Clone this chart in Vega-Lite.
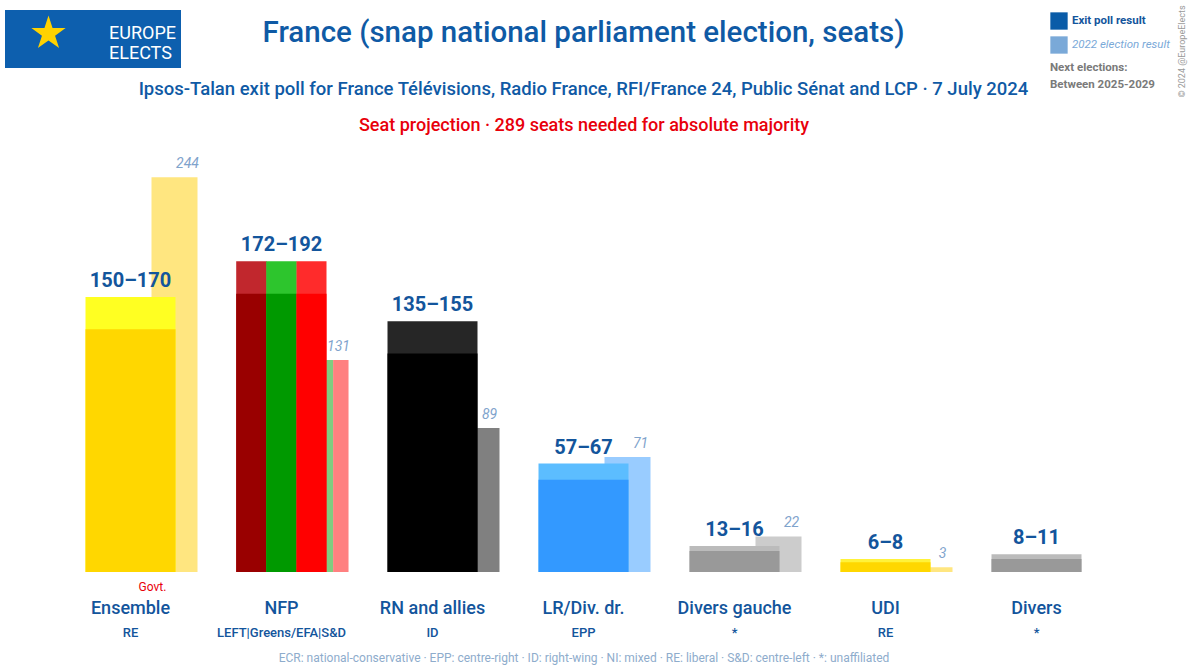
{
  "$schema": "https://vega.github.io/schema/vega-lite/v6.json",
  "width": 1057,
  "height": 432,
  "autosize": {"type": "none"},
  "padding": {"left": 55, "top": 140, "right": 77, "bottom": 94},
  "background": "white",
  "config": {
    "view": {"stroke": null},
    "scale": {"bandPaddingInner": 0, "bandPaddingOuter": 0},
    "font": "Roboto"
  },
  "title": {
    "text": "France (snap national parliament election, seats)",
    "subtitle": "Ipsos-Talan exit poll for France Télévisions, Radio France, RFI/France 24, Public Sénat and LCP · 7 July 2024",
    "anchor": "middle",
    "font": "Roboto",
    "fontSize": 29.5,
    "fontWeight": 500,
    "color": "#0f5aa5",
    "subtitleFont": "Roboto",
    "subtitleFontSize": 18.5,
    "subtitleFontWeight": 500,
    "subtitleColor": "#0f5aa5",
    "subtitlePadding": 32,
    "offset": -95
  },
  "datasets": {
    "bars": [
      {"party": "Ensemble", "seg": "all", "key": "Ensemble high", "v": 170},
      {"party": "Ensemble", "seg": "all", "key": "Ensemble low", "v": 150},
      {"party": "NFP", "seg": "a", "key": "NFP-LEFT high", "v": 192},
      {"party": "NFP", "seg": "a", "key": "NFP-LEFT low", "v": 172},
      {"party": "NFP", "seg": "b", "key": "NFP-Greens high", "v": 192},
      {"party": "NFP", "seg": "b", "key": "NFP-Greens low", "v": 172},
      {"party": "NFP", "seg": "c", "key": "NFP-S&D high", "v": 192},
      {"party": "NFP", "seg": "c", "key": "NFP-S&D low", "v": 172},
      {"party": "RN and allies", "seg": "all", "key": "RN high", "v": 155},
      {"party": "RN and allies", "seg": "all", "key": "RN low", "v": 135},
      {"party": "LR/Div. dr.", "seg": "all", "key": "LR high", "v": 67},
      {"party": "LR/Div. dr.", "seg": "all", "key": "LR low", "v": 57},
      {"party": "Divers gauche", "seg": "all", "key": "DVG high", "v": 16},
      {"party": "Divers gauche", "seg": "all", "key": "DVG low", "v": 13},
      {"party": "UDI", "seg": "all", "key": "UDI high", "v": 8},
      {"party": "UDI", "seg": "all", "key": "UDI low", "v": 6},
      {"party": "Divers", "seg": "all", "key": "DIV high", "v": 11},
      {"party": "Divers", "seg": "all", "key": "DIV low", "v": 8}
    ],
    "prev": [
      {"party": "Ensemble", "seg": "all", "key": "Ensemble prev", "v": 244},
      {"party": "NFP", "seg": "a", "key": "NFP-LEFT prev", "v": 131},
      {"party": "NFP", "seg": "b", "key": "NFP-Greens prev", "v": 131},
      {"party": "NFP", "seg": "c", "key": "NFP-S&D prev", "v": 131},
      {"party": "RN and allies", "seg": "all", "key": "RN prev", "v": 89},
      {"party": "LR/Div. dr.", "seg": "all", "key": "LR prev", "v": 71},
      {"party": "Divers gauche", "seg": "all", "key": "DVG prev", "v": 22},
      {"party": "UDI", "seg": "all", "key": "UDI prev", "v": 3}
    ],
    "labels": [
      {"party": "Ensemble", "range": "150–170", "high": 170, "prev": 244, "group": "RE", "gov": "Govt."},
      {"party": "NFP", "range": "172–192", "high": 192, "prev": 131, "group": "LEFT|Greens/EFA|S&D", "gov": ""},
      {"party": "RN and allies", "range": "135–155", "high": 155, "prev": 89, "group": "ID", "gov": ""},
      {"party": "LR/Div. dr.", "range": "57–67", "high": 67, "prev": 71, "group": "EPP", "gov": ""},
      {"party": "Divers gauche", "range": "13–16", "high": 16, "prev": 22, "group": "*", "gov": ""},
      {"party": "UDI", "range": "6–8", "high": 8, "prev": 3, "group": "RE", "gov": ""},
      {"party": "Divers", "range": "8–11", "high": 11, "group": "*", "gov": ""}
    ]
  },
  "layer": [
    {
      "encoding": {
        "x": {"field": "party", "type": "nominal", "scale": {"domain": ["Ensemble", "NFP", "RN and allies", "LR/Div. dr.", "Divers gauche", "UDI", "Divers"]}, "axis": null},
        "fill": {
          "field": "key", "type": "nominal", "legend": null,
          "scale": {
            "domain": ["Ensemble high", "Ensemble low", "Ensemble prev", "NFP-LEFT high", "NFP-LEFT low", "NFP-LEFT prev", "NFP-Greens high", "NFP-Greens low", "NFP-Greens prev", "NFP-S&D high", "NFP-S&D low", "NFP-S&D prev", "RN high", "RN low", "RN prev", "LR high", "LR low", "LR prev", "DVG high", "DVG low", "DVG prev", "UDI high", "UDI low", "UDI prev", "DIV high", "DIV low"],
            "range": ["#FFFF22", "#FFD700", "#FFE680", "#C1272D", "#990000", "#CC7F7F", "#2DC52D", "#009900", "#80CC80", "#FF2B2B", "#FF0000", "#FF8080", "#262626", "#000000", "#808080", "#5CBDFF", "#3399FF", "#99CCFF", "#BBBBBB", "#999999", "#CCCCCC", "#FFF23A", "#FFD700", "#FFE680", "#BBBBBB", "#999999"]
          }
        }
      },
      "layer": [
        {"data": {"name": "prev"}, "transform": [{"filter": "datum.seg == 'all'"}], "mark": {"type": "bar", "width": 46, "xOffset": 44},
         "encoding": {"y": {"field": "v", "type": "quantitative", "stack": null, "scale": {"domain": [0, 267]}, "axis": null}}},
        {"data": {"name": "prev"}, "transform": [{"filter": "datum.seg == 'a'"}], "mark": {"type": "bar", "width": 15.6, "xOffset": 28.67},
         "encoding": {"y": {"field": "v", "type": "quantitative", "stack": null, "scale": {"domain": [0, 267]}, "axis": null}}},
        {"data": {"name": "prev"}, "transform": [{"filter": "datum.seg == 'b'"}], "mark": {"type": "bar", "width": 15.6, "xOffset": 44},
         "encoding": {"y": {"field": "v", "type": "quantitative", "stack": null, "scale": {"domain": [0, 267]}, "axis": null}}},
        {"data": {"name": "prev"}, "transform": [{"filter": "datum.seg == 'c'"}], "mark": {"type": "bar", "width": 15.4, "xOffset": 59.33},
         "encoding": {"y": {"field": "v", "type": "quantitative", "stack": null, "scale": {"domain": [0, 267]}, "axis": null}}},
        {"data": {"name": "bars"}, "transform": [{"filter": "datum.seg == 'all'"}], "mark": {"type": "bar", "width": 90, "xOffset": 0},
         "encoding": {"y": {"field": "v", "type": "quantitative", "stack": null, "scale": {"domain": [0, 267]}, "axis": null}}},
        {"data": {"name": "bars"}, "transform": [{"filter": "datum.seg == 'a'"}], "mark": {"type": "bar", "width": 30.6, "xOffset": -30},
         "encoding": {"y": {"field": "v", "type": "quantitative", "stack": null, "scale": {"domain": [0, 267]}, "axis": null}}},
        {"data": {"name": "bars"}, "transform": [{"filter": "datum.seg == 'b'"}], "mark": {"type": "bar", "width": 30.6, "xOffset": 0},
         "encoding": {"y": {"field": "v", "type": "quantitative", "stack": null, "scale": {"domain": [0, 267]}, "axis": null}}},
        {"data": {"name": "bars"}, "transform": [{"filter": "datum.seg == 'c'"}], "mark": {"type": "bar", "width": 30, "xOffset": 30},
         "encoding": {"y": {"field": "v", "type": "quantitative", "stack": null, "scale": {"domain": [0, 267]}, "axis": null}}}
      ]
    },
    {
      "data": {"name": "labels"},
      "mark": {"type": "text", "font": "Roboto", "fontSize": 20, "fontWeight": "bold", "color": "#13559c", "baseline": "alphabetic", "dy": -10},
      "encoding": {
        "x": {"field": "party", "type": "nominal", "scale": {"domain": ["Ensemble", "NFP", "RN and allies", "LR/Div. dr.", "Divers gauche", "UDI", "Divers"]},
              "axis": {"orient": "top", "title": "Seat projection · 289 seats needed for absolute majority", "titleColor": "#e8000b", "titleFont": "Roboto", "titleFontSize": 18, "titleFontWeight": 500, "titlePadding": 6, "labels": false, "ticks": false, "domain": false, "grid": false}},
        "y": {"field": "high", "type": "quantitative", "scale": {"domain": [0, 267]}, "axis": null},
        "text": {"field": "range", "type": "nominal"}
      }
    },
    {
      "data": {"name": "labels"},
      "transform": [{"filter": "isValid(datum.prev)"}],
      "mark": {"type": "text", "font": "Roboto", "fontSize": 14, "fontStyle": "italic", "color": "#7fa3cc", "baseline": "alphabetic", "dy": -9, "xOffset": 57},
      "encoding": {
        "x": {"field": "party", "type": "nominal", "scale": {"domain": ["Ensemble", "NFP", "RN and allies", "LR/Div. dr.", "Divers gauche", "UDI", "Divers"]}, "axis": null},
        "y": {"field": "prev", "type": "quantitative", "scale": {"domain": [0, 267]},
              "axis": {"orient": "right", "title": "© 2024 @EuropeElects", "titleAngle": 270, "titleX": 69, "titleY": -89, "titleAlign": "center", "titleBaseline": "middle", "titleFont": "Roboto", "titleFontSize": 9, "titleFontWeight": "normal", "titleColor": "#999999", "labels": false, "ticks": false, "domain": false, "grid": false}},
        "text": {"field": "prev", "type": "quantitative"}
      }
    },
    {
      "data": {"name": "labels"},
      "mark": {"type": "text", "font": "Roboto", "fontSize": 13, "fontWeight": 500, "color": "#13559c", "baseline": "middle", "dy": 61},
      "encoding": {
        "x": {"field": "party", "type": "nominal", "scale": {"domain": ["Ensemble", "NFP", "RN and allies", "LR/Div. dr.", "Divers gauche", "UDI", "Divers"]},
              "axis": {"orient": "bottom", "title": "ECR: national-conservative · EPP: centre-right · ID: right-wing · NI: mixed · RE: liberal · S&D: centre-left · *: unaffiliated", "titleColor": "#8eaccc", "titleFont": "Roboto", "titleFontSize": 12, "titleFontWeight": "normal", "titlePadding": 35, "labelFont": "Roboto", "labelFontSize": 18, "labelFontWeight": 500, "labelColor": "#13559c", "labelPadding": 27, "labelAngle": 0, "ticks": false, "domain": false, "grid": false}},
        "y": {"datum": 0, "type": "quantitative", "scale": {"domain": [0, 267]}, "axis": null},
        "text": {"field": "group", "type": "nominal"}
      }
    },
    {
      "data": {"name": "labels"},
      "mark": {"type": "text", "font": "Roboto", "fontSize": 12, "color": "#e8000b", "baseline": "middle", "dy": 15, "dx": 22},
      "encoding": {
        "x": {"field": "party", "type": "nominal", "scale": {"domain": ["Ensemble", "NFP", "RN and allies", "LR/Div. dr.", "Divers gauche", "UDI", "Divers"]}, "axis": null},
        "y": {"datum": 0, "type": "quantitative", "scale": {"domain": [0, 267]}, "axis": null},
        "text": {"field": "gov", "type": "nominal"}
      }
    },
    {
      "data": {"values": [{"k": "Exit poll result"}, {"k": "2022 election result"}]},
      "mark": {"type": "bar", "opacity": 0},
      "encoding": {
        "x": {"datum": "Divers", "type": "nominal", "axis": null},
        "y": {"datum": 0, "type": "quantitative", "scale": {"domain": [0, 267]}, "axis": null},
        "color": {"field": "k", "type": "nominal",
                  "scale": {"domain": ["Exit poll result", "2022 election result"], "range": ["#0a5ca8", "#7aa9d8"]},
                  "legend": {"orient": "none", "legendX": 995, "legendY": -128, "title": ["Next elections:", "Between 2025-2029"], "titleOrient": "bottom", "titleColor": "#7a7a7a", "titleFont": "Roboto", "titleFontSize": 11.5, "titleFontWeight": "bold", "titlePadding": 8, "titleLineHeight": 17, "symbolType": "square", "symbolSize": 300, "symbolOpacity": 1, "symbolStrokeWidth": 0, "labelFont": "Roboto", "labelFontSize": 11.5, "labelFontWeight": "bold", "labelColor": "#13559c", "rowPadding": 6,
                             "encode": {"labels": {"update": {"fill": {"signal": "datum.label == '2022 election result' ? '#7aa9d8' : '#13559c'"}, "fontStyle": {"signal": "datum.label == '2022 election result' ? 'italic' : 'normal'"}, "fontWeight": {"signal": "datum.label == '2022 election result' ? 'normal' : 'bold'"}}}}}}
      }
    },
    {
      "data": {"values": [{"logo": "EUROPE ELECTS"}]},
      "mark": {"type": "point", "filled": true, "color": "#FFD200", "opacity": 0},
      "encoding": {
        "x": {"datum": "Divers", "type": "nominal", "axis": null},
        "y": {"datum": 0, "type": "quantitative", "scale": {"domain": [0, 267]}, "axis": null},
        "shape": {"field": "logo", "type": "nominal",
                  "scale": {"domain": ["EUROPE ELECTS"], "range": ["M0,-1L0.2245,-0.309L0.951,-0.309L0.3633,0.118L0.5878,0.809L0,0.382L-0.5878,0.809L-0.3633,0.118L-0.951,-0.309L-0.2245,-0.309Z"]},
                  "legend": {"orient": "none", "legendX": -50, "legendY": -130, "title": null, "fillColor": "#0d5fae", "padding": 5, "symbolSize": 1300, "symbolOpacity": 1, "symbolFillColor": "#FFD200", "symbolStrokeWidth": 0, "symbolOffset": 20, "labelExpr": "['EUROPE', 'ELECTS']", "labelColor": "white", "labelFont": "Roboto", "labelFontSize": 18, "labelOffset": 42, "labelLimit": 200}}
      }
    }
  ],
  "resolve": {"axis": {"x": "independent", "y": "independent"}}
}
